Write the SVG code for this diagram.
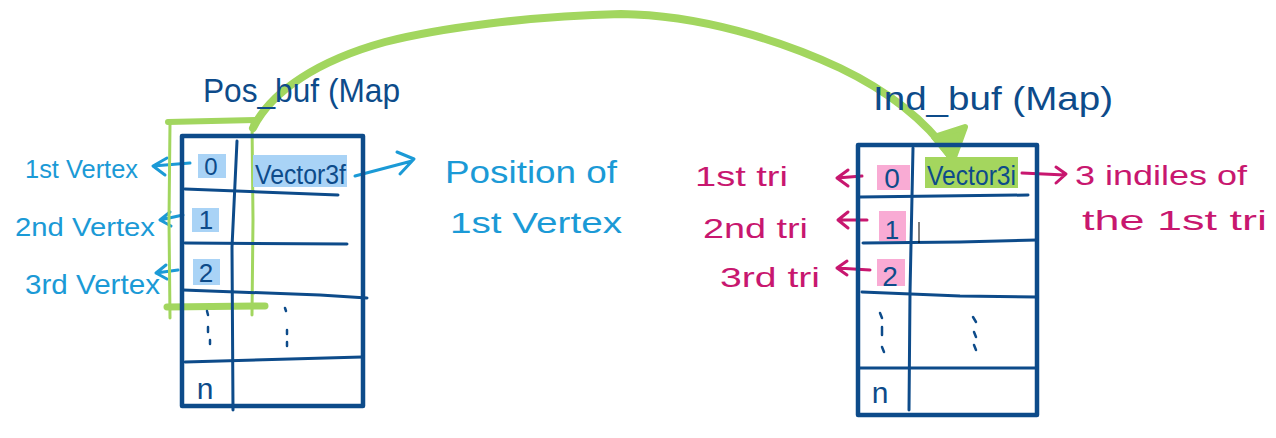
<svg xmlns="http://www.w3.org/2000/svg" width="1276" height="438" viewBox="0 0 1276 438">
<style>
.db{stroke:#0d4b8a;fill:none;stroke-linecap:round;stroke-linejoin:round}
.frame{stroke-width:4.5}
.line{stroke-width:3}
.tdb{fill:#0d4b8a;font-family:"Liberation Sans",Arial,sans-serif}
.tcy{fill:#1b9ad6;font-family:"Liberation Sans",Arial,sans-serif}
.tmg{fill:#c8176f;font-family:"Liberation Sans",Arial,sans-serif}
.acy{stroke:#1b9ad6;stroke-width:3;fill:none;stroke-linecap:round;stroke-linejoin:round}
.amg{stroke:#c8176f;stroke-width:3;fill:none;stroke-linecap:round;stroke-linejoin:round}
.gr{stroke:#a2d65f;fill:none;stroke-linecap:round;stroke-linejoin:round}
.grf{stroke:#a2d65f;fill:#a2d65f;stroke-linejoin:round}
.hb{fill:#a9d3f6}
.hp{fill:#f9abd4}
.hg{fill:#a4d65e}
.dot{stroke:#0d4b8a;stroke-width:2.5;stroke-linecap:round}
</style>

<g id="connectors">
  <path class="gr" stroke-width="8" d="M253,128 C272,90 320,60 385,42 C440,28 530,16 621,14 C700,15 780,40 840,68 C890,92 925,120 950,155"/>
  <path class="grf" stroke-width="6" d="M934,137 L953,160 L965,127 Z"/>
  <path class="acy" d="M190,163 L153,166 M167,158 L153,166 L165,175"/>
  <path class="acy" d="M183,215 L160,220 M170,212 L160,220 L171,226"/>
  <path class="acy" d="M178,270 L156,273 M166,265 L156,273 L167,279"/>
  <path class="acy" d="M355,176 L412,161 M397,152 L414,159 L400,174"/>
  <path class="amg" d="M862,176 L837,178 M848,170 L837,178 L848,186"/>
  <path class="amg" d="M867,220 L838,220 M848,212 L838,220 L848,228"/>
  <path class="amg" d="M870,270 L837,268 M847,261 L837,268 L847,275"/>
  <path class="amg" d="M1022,173 L1065,175 M1056,167 L1066,174 L1056,183"/>
</g>

<g id="pos_buf_bracket">
  <path class="gr" stroke-width="6" d="M168,122 L255,120"/>
  <path class="gr" stroke-width="3" d="M170,123 L169,220 L170,318"/>
  <path class="gr" stroke-width="3" d="M252,121 L253,220 L252,315"/>
  <path class="gr" stroke-width="7" d="M167,307 L265,306"/>
</g>

<g id="pos_buf">
  <text class="tdb" x="203" y="102" font-size="34" textLength="197" lengthAdjust="spacingAndGlyphs">Pos_buf (Map</text>
  <rect class="hb" x="198" y="154" width="28" height="24"/>
  <rect class="hb" x="192" y="208" width="27" height="24"/>
  <rect class="hb" x="193" y="259" width="27" height="26"/>
  <rect class="hb" x="253" y="155" width="94" height="32"/>
  <rect class="db frame" x="182" y="136" width="181" height="270"/>
  <path class="db line" d="M237,141 L232,247 L233,410"/>
  <path class="db line" d="M185,189 L260,192 L338,195"/>
  <path class="db line" d="M185,243 L347,244"/>
  <path class="db line" d="M183,290 L320,295 L367,298"/>
  <path class="db line" d="M185,362 L362,357"/>
  <text class="tdb" x="211" y="175" font-size="24" text-anchor="middle">0</text>
  <text class="tdb" x="206" y="229" font-size="26" text-anchor="middle">1</text>
  <text class="tdb" x="206" y="282" font-size="26" text-anchor="middle">2</text>
  <text class="tdb" x="255" y="184" font-size="27" textLength="91" lengthAdjust="spacingAndGlyphs">Vector3f</text>
  <path class="dot" d="M207,311 L208,315 M208,327 L208,332 M210,340 L210,344"/>
  <path class="dot" d="M285,308 L286,311 M287,330 L287,334 M287,342 L287,346"/>
  <text class="tdb" x="205" y="399" font-size="30" text-anchor="middle">n</text>
</g>

<g id="ind_buf">
  <text class="tdb" x="873" y="110" font-size="34" textLength="240" lengthAdjust="spacingAndGlyphs">Ind_buf (Map)</text>
  <rect class="hp" x="877" y="165" width="33" height="25"/>
  <rect class="hp" x="879" y="211" width="27" height="30"/>
  <rect class="hp" x="877" y="259" width="28" height="27"/>
  <rect class="hg" x="925" y="157" width="93" height="31"/>
  <rect class="db frame" x="858" y="145" width="179" height="270"/>
  <path class="db line" d="M913,148 L910,293 L909,410"/>
  <path class="db line" d="M860,197 L1028,195"/>
  <path class="db line" d="M863,243 L960,242 L1037,240"/>
  <path class="db line" d="M862,292 L960,296 L1037,297"/>
  <path class="db line" d="M860,368 L1037,368"/>
  <text class="tdb" x="892" y="188" font-size="28" text-anchor="middle">0</text>
  <text class="tdb" x="892" y="239" font-size="26" text-anchor="middle">1</text>
  <text class="tdb" x="890" y="286" font-size="28" text-anchor="middle">2</text>
  <text class="tdb" x="927" y="185" font-size="28" textLength="89" lengthAdjust="spacingAndGlyphs">Vector3i</text>
  <line x1="919" y1="222" x2="919" y2="243" stroke="#000" stroke-width="1"/>
  <path class="dot" d="M880,313 L882,318 M882,327 L882,335 M882,347 L884,352"/>
  <path class="dot" d="M973,317 L976,322 M974,332 L976,337 M974,345 L976,350"/>
  <text class="tdb" x="880" y="403" font-size="30" text-anchor="middle">n</text>
</g>

<g id="labels">
  <text class="tcy" x="25" y="178" font-size="26" textLength="113" lengthAdjust="spacingAndGlyphs">1st Vertex</text>
  <text class="tcy" x="15" y="236" font-size="26" textLength="140" lengthAdjust="spacingAndGlyphs">2nd Vertex</text>
  <text class="tcy" x="25" y="294" font-size="28" textLength="135" lengthAdjust="spacingAndGlyphs">3rd Vertex</text>
  <text class="tcy" x="445" y="183" font-size="32" textLength="172" lengthAdjust="spacingAndGlyphs">Position of</text>
  <text class="tcy" x="450" y="233" font-size="30" textLength="172" lengthAdjust="spacingAndGlyphs">1st Vertex</text>
  <text class="tmg" x="695" y="186" font-size="28" textLength="93" lengthAdjust="spacingAndGlyphs">1st tri</text>
  <text class="tmg" x="703" y="238" font-size="28" textLength="105" lengthAdjust="spacingAndGlyphs">2nd tri</text>
  <text class="tmg" x="720" y="287" font-size="28" textLength="100" lengthAdjust="spacingAndGlyphs">3rd tri</text>
  <text class="tmg" x="1075" y="185" font-size="28" textLength="172" lengthAdjust="spacingAndGlyphs">3 indiles of</text>
  <text class="tmg" x="1082" y="230" font-size="28" textLength="185" lengthAdjust="spacingAndGlyphs">the 1st tri</text>
</g>
</svg>
